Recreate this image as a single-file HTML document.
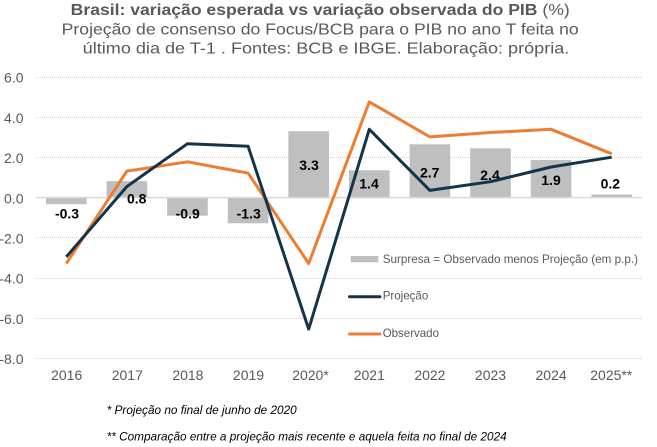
<!DOCTYPE html>
<html>
<head>
<meta charset="utf-8">
<style>
  html,body{margin:0;padding:0;background:#fff;}
  svg{display:block;}
  text{font-family:"Liberation Sans",Arial,sans-serif;}
</style>
</head>
<body>
<svg width="657" height="447" viewBox="0 0 657 447" xmlns="http://www.w3.org/2000/svg">
  <rect x="0" y="0" width="657" height="447" fill="#ffffff"/>

  <!-- Title -->
  <text x="70.7" y="15" font-size="16" fill="#595959" textLength="499" lengthAdjust="spacingAndGlyphs"><tspan font-weight="bold">Brasil: variação esperada vs variação observada do PIB</tspan> (%)</text>
  <text x="61.7" y="34.7" font-size="16" fill="#595959" textLength="517" lengthAdjust="spacingAndGlyphs">Projeção de consenso do Focus/BCB para o PIB no ano T feita no</text>
  <text x="82.7" y="53.3" font-size="16" fill="#595959" textLength="486.6" lengthAdjust="spacingAndGlyphs">último dia de T-1 . Fontes: BCB e IBGE. Elaboração: própria.</text>

  <!-- Gridlines (dotted) -->
  <g stroke="#d0d0d0" stroke-width="1" stroke-dasharray="1,1">
    <line x1="36" y1="77.5" x2="642" y2="77.5"/>
    <line x1="36" y1="117.5" x2="642" y2="117.5"/>
    <line x1="36" y1="157.5" x2="642" y2="157.5"/>
    <line x1="36" y1="237.5" x2="642" y2="237.5"/>
    <line x1="36" y1="278.5" x2="642" y2="278.5"/>
    <line x1="36" y1="318.5" x2="642" y2="318.5"/>
    <line x1="36" y1="358.5" x2="642" y2="358.5"/>
  </g>

  <!-- Y axis labels -->
  <g font-size="14" fill="#595959" text-anchor="end">
    <text x="23.5" y="82.7">6.0</text>
    <text x="23.5" y="122.9">4.0</text>
    <text x="23.5" y="163.1">2.0</text>
    <text x="23.5" y="203.3">0.0</text>
    <text x="23.5" y="243.5">-2.0</text>
    <text x="23.5" y="283.7">-4.0</text>
    <text x="23.5" y="323.9">-6.0</text>
    <text x="23.5" y="364.1">-8.0</text>
  </g>

  <!-- Bars -->
  <g fill="#bfbfbf">
    <rect x="46" y="197.6" width="40.6" height="6.6"/>
    <rect x="106.6" y="181.1" width="40.6" height="16.5"/>
    <rect x="167.2" y="197.6" width="40.6" height="18.1"/>
    <rect x="227.8" y="197.6" width="40.6" height="25.7"/>
    <rect x="288.4" y="131.2" width="40.6" height="66.4"/>
    <rect x="349" y="170.3" width="40.6" height="27.3"/>
    <rect x="409.6" y="144.3" width="40.6" height="53.3"/>
    <rect x="470.2" y="148.3" width="40.6" height="49.3"/>
    <rect x="530.8" y="160" width="40.6" height="37.6"/>
    <rect x="591.4" y="194.6" width="40.6" height="3"/>
  </g>

  <!-- Zero line -->
  <line x1="36" y1="197.6" x2="642" y2="197.6" stroke="#d9d9d9" stroke-width="1.5"/>

  <!-- Bar labels -->
  <g font-size="14" font-weight="bold" fill="#000" text-anchor="middle">
    <text x="67" y="218.4">-0.3</text>
    <text x="136.7" y="203.3">0.8</text>
    <text x="187.7" y="218.4">-0.9</text>
    <text x="248.7" y="218.4">-1.3</text>
    <text x="309" y="170">3.3</text>
    <text x="369" y="188.5">1.4</text>
    <text x="429.7" y="177.4">2.7</text>
    <text x="490" y="179.8">2.4</text>
    <text x="551" y="184.8">1.9</text>
    <text x="610.3" y="188.3">0.2</text>
  </g>

  <!-- Observado line -->
  <polyline fill="none" stroke="#ed7d31" stroke-width="3" stroke-linejoin="round" stroke-linecap="butt"
    points="66.3,263.5 126.9,171.1 187.5,161.8 248.1,173.1 308.7,263.5 369.3,101.9 429.9,136.9 490.5,132.5 551.1,129.3 611.7,153.8"/>

  <!-- Projeção line -->
  <polyline fill="none" stroke="#163449" stroke-width="3" stroke-linejoin="round" stroke-linecap="butt"
    points="66.3,256.9 126.9,186.5 187.5,143.7 248.1,146.3 308.7,329.1 369.3,129.3 429.9,190.4 490.5,181.7 551.1,167.0 611.7,157.2"/>

  <!-- X axis labels -->
  <g font-size="14" fill="#595959" text-anchor="middle">
    <text x="66.7" y="380">2016</text>
    <text x="127.3" y="380">2017</text>
    <text x="187.9" y="380">2018</text>
    <text x="248.5" y="380">2019</text>
    <text x="310.5" y="380">2020*</text>
    <text x="369.3" y="380">2021</text>
    <text x="429.9" y="380">2022</text>
    <text x="490.5" y="380">2023</text>
    <text x="551.1" y="380">2024</text>
    <text x="611.3" y="380">2025**</text>
  </g>

  <!-- Legend -->
  <rect x="350.7" y="256" width="27.6" height="6.3" fill="#bfbfbf"/>
  <text x="382.7" y="263" font-size="12" fill="#595959" textLength="255.3" lengthAdjust="spacingAndGlyphs">Surpresa = Observado menos Projeção (em p.p.)</text>
  <line x1="349.5" y1="296.7" x2="380" y2="296.7" stroke="#163449" stroke-width="3" stroke-linecap="round"/>
  <text x="382.7" y="299.6" font-size="12" fill="#595959" textLength="45.6" lengthAdjust="spacingAndGlyphs">Projeção</text>
  <line x1="349.5" y1="334" x2="380" y2="334" stroke="#ed7d31" stroke-width="3" stroke-linecap="round"/>
  <text x="382.7" y="336.8" font-size="12" fill="#595959" textLength="56.3" lengthAdjust="spacingAndGlyphs">Observado</text>

  <!-- Footnotes -->
  <text x="106.7" y="413.8" font-size="12" font-style="italic" fill="#000" textLength="190" lengthAdjust="spacingAndGlyphs">* Projeção no final de junho de 2020</text>
  <text x="106.7" y="440.3" font-size="12" font-style="italic" fill="#000" textLength="400" lengthAdjust="spacingAndGlyphs">** Comparação entre a projeção mais recente e aquela feita no final de 2024</text>
</svg>
</body>
</html>
